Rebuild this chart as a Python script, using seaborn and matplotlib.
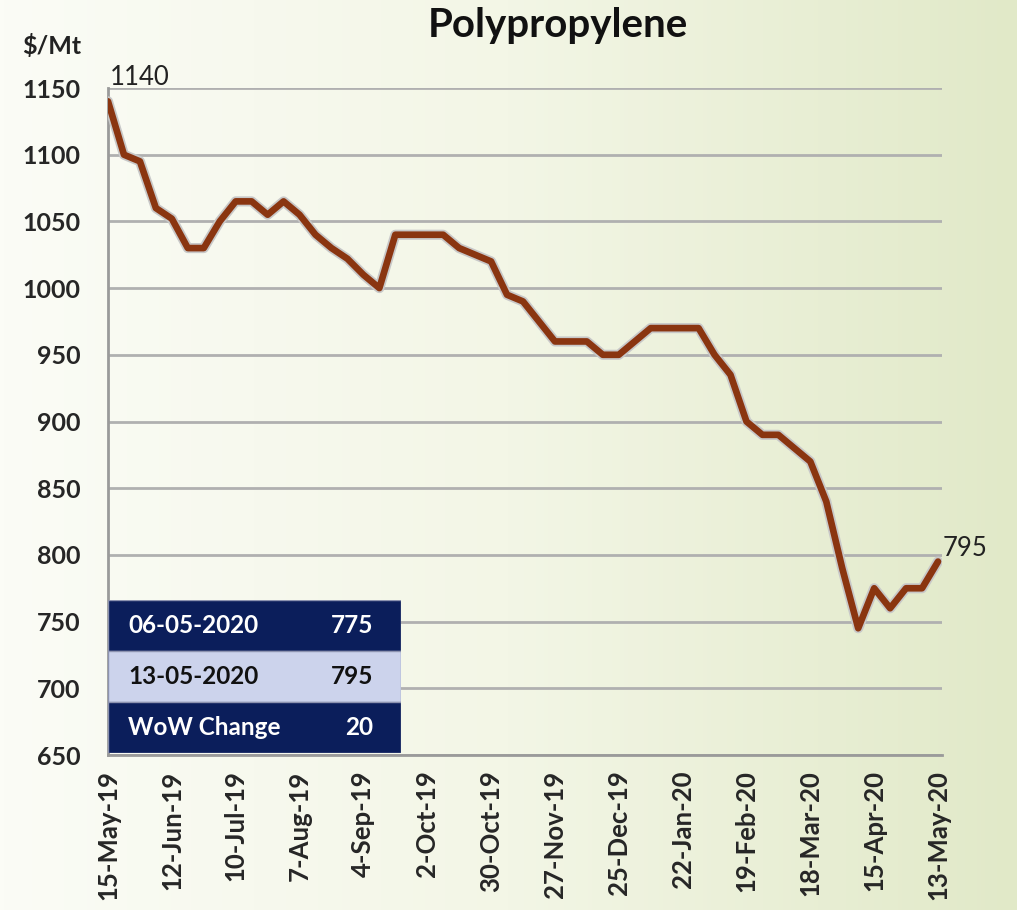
import matplotlib
matplotlib.use("Agg")
import matplotlib.pyplot as plt
import matplotlib.patheffects as pe
from matplotlib.colors import LinearSegmentedColormap
import numpy as np
import pandas as pd
import seaborn as sns

# weekly Polypropylene price, 15-May-19 .. 13-May-20
prices = [1140, 1100, 1095, 1060, 1052, 1030, 1030, 1050, 1065, 1065,
          1055, 1065, 1055, 1040, 1030, 1022, 1010, 1000, 1040, 1040,
          1040, 1040, 1030, 1025, 1020, 995, 990, 975, 960, 960,
          960, 950, 950, 960, 970, 970, 970, 970, 950, 935,
          900, 890, 890, 880, 870, 840, 790, 745, 775, 760,
          775, 775, 795]
tick_labels = ["15-May-19", "12-Jun-19", "10-Jul-19", "7-Aug-19", "4-Sep-19",
               "2-Oct-19", "30-Oct-19", "27-Nov-19", "25-Dec-19", "22-Jan-20",
               "19-Feb-20", "18-Mar-20", "15-Apr-20", "13-May-20"]
y_ticks = [650, 700, 750, 800, 850, 900, 950, 1000, 1050, 1100, 1150]
table_labels = ["06-05-2020", "13-05-2020", "WoW Change"]
table_values = [775, 795, 20]

df = pd.DataFrame({"week": range(len(prices)), "price": prices})

sns.set_style("white")
plt.rcParams["font.family"] = ["Lato", "DejaVu Sans"]

fig = plt.figure(figsize=(10.17, 9.10), dpi=100)

# gradient background
bg = fig.add_axes([0, 0, 1, 1], zorder=-10)
grad_cmap = LinearSegmentedColormap.from_list("bg", ["#fbfcf6", "#f3f6e6", "#e1e9c8"])
gx = np.linspace(0, 1, 256)
grad = np.tile(gx, (20, 1))
bg.imshow(grad, aspect="auto", cmap=grad_cmap, extent=[0, 1, 0, 1])
bg.axis("off")

ax = fig.add_axes([108 / 1017, 1 - 755 / 910, (942 - 108) / 1017, (755 - 88) / 910])
ax.patch.set_alpha(0)

sns.lineplot(data=df, x="week", y="price", ax=ax, color="#8a3510", linewidth=4.8,
             solid_joinstyle="round", solid_capstyle="round",
             path_effects=[pe.Stroke(linewidth=7.3, foreground="#c8c8c8"), pe.Normal()],
             zorder=5)

ax.set_xlim(0, 52.25)
ax.set_ylim(650, 1150)
ax.set_yticks(y_ticks)
ax.set_xticks(range(0, 53, 4))
ax.set_xticklabels(tick_labels, rotation=90, fontsize=18.5, fontweight="bold")
ax.set_yticklabels([str(v) for v in y_ticks], fontsize=18, fontweight="bold")
ax.set_xlabel("")
ax.set_ylabel("")

ax.grid(axis="y", color="#b0b0b0", linewidth=2)
ax.grid(axis="x", visible=False)
for side in ["top", "right"]:
    ax.spines[side].set_visible(False)
for side in ["left", "bottom"]:
    ax.spines[side].set_color("#9a9a9a")
    ax.spines[side].set_linewidth(2)
ax.tick_params(axis="x", direction="out", length=7, width=2, color="#9a9a9a", pad=4)
ax.tick_params(axis="y", length=0, pad=20)

# end value labels
ax.annotate(str(prices[0]), (0, prices[0]), xytext=(1, 12), textcoords="offset points",
            fontsize=18.5, color="#222222")
ax.annotate(str(prices[-1]), (len(prices) - 1, prices[-1]), xytext=(3, 4),
            textcoords="offset points", fontsize=18.5, color="#222222")

fig.text(558 / 1017, 1 - 26 / 910, "Polypropylene", ha="center", va="center",
         fontsize=29, fontweight="bold", color="#111111")
fig.text(22 / 1017, 1 - 46 / 910, "$/Mt", ha="left", va="center",
         fontsize=18, fontweight="bold", color="#222222")

# summary table inset
tab = fig.add_axes([108 / 1017, 1 - 753 / 910, (401 - 108) / 1017, (753 - 600) / 910], zorder=8)
tab.set_xlim(0, 1)
tab.set_ylim(0, 3)
tab.axis("off")
row_fill = ["#0b1e5b", "#ccd3ec", "#0b1e5b"]
row_text = ["white", "#111111", "white"]
for i, (lab, val) in enumerate(zip(table_labels, table_values)):
    yb = 2 - i
    tab.add_patch(plt.Rectangle((0, yb), 1, 1, facecolor=row_fill[i],
                                edgecolor="#8d93b0", linewidth=1))
    tab.text(0.068, yb + 0.5, lab, ha="left", va="center", fontsize=17.5,
             fontweight="bold", color=row_text[i])
    tab.text(0.905, yb + 0.5, str(val), ha="right", va="center", fontsize=17.5,
             fontweight="bold", color=row_text[i])

fig.savefig("out.png", dpi=100)
